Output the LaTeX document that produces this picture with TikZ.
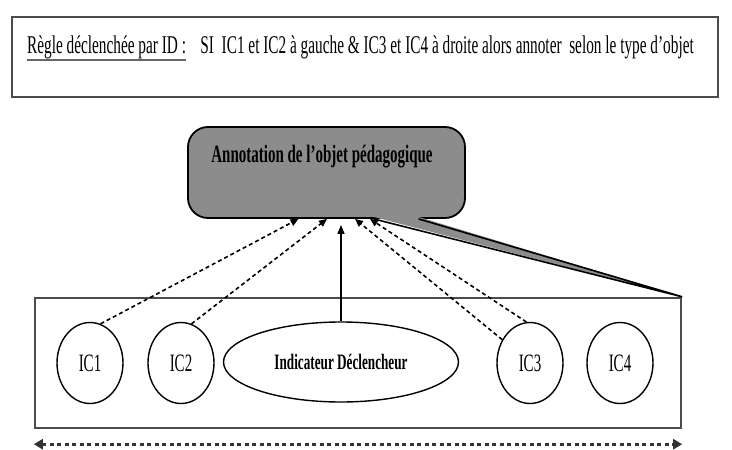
\documentclass[tikz,border=0pt]{standalone}
\usepackage{fontspec}
\setmainfont{Liberation Serif}[FakeStretch=0.6]
\usetikzlibrary{arrows.meta, shapes.geometric, calc}

\tikzset{
        rulebox/.style={draw=black!70, line width=2.4pt, fill=white, inner sep=0pt},
        txt/.style={inner sep=0pt, font=\fontsize{25.5}{30}\selectfont},
        underl/.style={draw=black!60, line width=2.5pt},
        icnode/.style={draw, ellipse, line width=1.4pt, minimum width=66pt, minimum height=81pt, inner sep=0pt, font=\fontsize{25}{28}\selectfont},
        trigger/.style={draw, ellipse, line width=1.4pt, minimum width=235pt, minimum height=80pt, inner sep=0pt, font=\bfseries\fontsize{22}{26}\selectfont},
        annotbox/.style={draw, line width=1.8pt, fill=black!45, rounded corners=20pt, minimum width=277pt, minimum height=91pt, inner sep=0pt},
        link/.style={dash pattern=on 4pt off 3pt, line width=1.6pt, -{Triangle[length=8pt,width=7pt]}},
        rise/.style={line width=1.3pt, -{Triangle[length=9pt,width=7pt]}},
        spanline/.style={draw=black!80, dash pattern=on 4pt off 3.5pt, line width=3pt, {Triangle[length=9pt,width=10pt]}-{Triangle[length=9pt,width=10pt]}}
}

\begin{document}
\begin{tikzpicture}[x=1pt, y=1pt]
        \useasboundingbox (0,0) rectangle (732,-450);

        \node[rulebox, minimum width=706pt, minimum height=80pt] (rule) at (365,-57) {};
        \node[txt, anchor=base west] (rulename) at (27,-53) {Règle déclenchée par ID :};
        \node[txt, anchor=base west] (cond) at ([xshift=14pt]rulename.base east) {SI\ \ IC1 et IC2 à gauche \& IC3 et IC4 à droite alors annoter\ \ selon le type d’objet};
        \draw[underl] ([yshift=-7pt]rulename.base west) -- ([yshift=-7pt]rulename.base east);

        \node[rulebox, minimum width=646pt, minimum height=130pt] (icbox) at (358,-363) {};
        \node[icnode] (ic1) at (90,-363) {IC1};
        \node[icnode] (ic2) at (181,-363) {IC2};
        \node[trigger] (ind) at (341,-362) {Indicateur Déclencheur};
        \node[icnode] (ic3) at (530,-363) {IC3};
        \node[icnode] (ic4) at (620,-363) {IC4};

        \node[annotbox] (annot) at (326.5,-172.5) {};
        \coordinate (wa) at ([xshift=47pt]annot.south);
        \coordinate (wb) at ([xshift=92pt]annot.south);
        \fill[black!45] ([yshift=2pt]wa) -- ([yshift=2pt]wb) -- (icbox.north east) -- cycle;
        \draw[line width=1.6pt] (wa) -- (icbox.north east) -- (wb);
        \node[txt, font=\bfseries\fontsize{25}{30}\selectfont] (annottxt) at (322,-157) {Annotation de l’objet pédagogique};

        \draw[link] (ic1.75) -- ([xshift=-28pt]annot.south);
        \draw[link] (ic2.75) -- ([xshift=0.5pt]annot.south);
        \draw[link] (ic3.140) -- ([xshift=28.5pt]annot.south);
        \draw[link] (ic3.95) -- ([xshift=43.5pt]annot.south);
        \draw[rise] (ind.north) -- ($(ind.north |- annot.south)+(0,-6)$);

        \draw[spanline] ([yshift=-15pt]icbox.south west) -- ([yshift=-15pt]icbox.south east);
\end{tikzpicture}
\end{document}
